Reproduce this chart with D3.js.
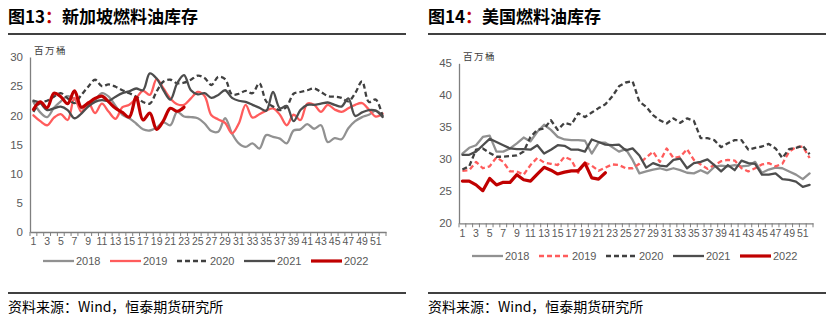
<!DOCTYPE html>
<html><head><meta charset="utf-8">
<script src="https://cdn.jsdelivr.net/npm/d3@7/dist/d3.min.js"></script>
<style>body{margin:0;background:#fff}svg{display:block}</style>
</head><body><svg id="c" width="839" height="328"></svg>
<script>
const weeks = [1,2,3,4,5,6,7,8,9,10,11,12,13,14,15,16,17,18,19,20,21,22,23,24,25,26,27,28,29,30,31,32,33,34,35,36,37,38,39,40,41,42,43,44,45,46,47,48,49,50,51,52];
const tickWeeks = [1,3,5,7,9,11,13,15,17,19,21,23,25,27,29,31,33,35,37,39,41,43,45,47,49,51];
const years = ["2018","2019","2020","2021","2022"];
const sgTicks = [0,5,10,15,20,25,30];
const usTicks = [20,25,30,35,40,45];

// Singapore fuel oil inventory (million barrels)
const sg2018 = [22.3,20.5,19.7,21.3,22.4,23.3,22.8,21.2,21.8,22.6,23.8,23.2,21.6,20.1,19.5,18.6,17.6,17.4,17.9,18.8,18.3,20.6,19.8,19.7,19.5,18.6,17.3,17.2,19.5,16.9,15.2,14.6,15.2,14.3,16.6,16.3,16.0,15.2,17.4,17.6,18.5,17.7,18.3,15.4,16.1,15.9,17.8,19.0,19.7,20.1,20.8,19.9];
const sg2019 = [20.0,19.0,18.3,19.6,20.2,19.2,23.0,20.6,22.2,20.4,22.0,20.6,19.4,21.4,21.8,22.9,24.2,23.5,26.2,24.6,22.9,21.9,21.8,22.9,24.0,23.3,20.0,19.3,18.7,16.9,18.6,21.8,19.6,20.2,20.8,21.2,20.1,18.3,20.1,19.2,22.0,21.8,20.6,21.8,21.0,20.6,21.2,21.8,22.1,21.0,19.8,20.3];
const sg2020 = [20.6,22.2,22.5,23.2,23.8,22.9,22.1,23.5,24.9,26.1,25.0,25.3,24.9,24.3,23.8,23.2,22.3,22.0,24.1,25.8,26.1,25.5,25.6,26.1,26.8,26.4,25.2,26.6,26.2,23.6,23.7,24.2,23.8,25.5,22.4,21.5,20.9,21.5,23.7,24.0,24.3,24.6,24.0,23.3,23.2,23.0,22.4,23.8,25.8,22.3,22.7,19.8];
const sg2021 = [22.5,22.1,20.9,21.2,21.5,20.9,19.5,20.3,21.5,22.3,22.6,22.5,23.2,23.8,24.1,24.6,24.3,27.2,26.3,24.3,22.7,25.5,26.9,24.3,23.6,23.8,23.0,23.5,24.3,23.0,22.5,22.3,21.8,21.3,20.8,24.0,21.2,21.6,19.0,20.9,21.8,21.8,22.0,22.2,21.8,21.5,22.9,19.9,20.5,20.9,20.8,19.7];
const sg2022 = [21.0,22.3,21.3,23.8,23.2,22.0,24.2,21.4,22.1,22.9,23.3,22.3,21.2,20.5,19.7,23.1,19.2,20.4,17.6,19.1,21.2,20.7,21.4];

// US fuel oil inventory (million barrels)
const us2018 = [30.9,31.8,32.2,33.5,33.7,31.2,31.2,31.7,32.5,33.4,32.8,34.3,35.4,34.6,33.5,33.1,33.0,33.0,32.9,30.9,32.6,32.6,31.9,31.2,31.6,29.9,27.8,28.1,28.4,28.6,28.3,28.6,28.3,27.9,27.8,28.3,27.8,28.8,29.0,28.9,29.1,28.9,29.0,29.6,27.9,28.4,28.7,28.6,28.1,27.6,26.9,27.8];
const us2019 = [28.2,28.3,29.6,28.6,28.9,30.3,29.6,28.1,28.1,27.6,29.1,30.2,29.5,29.3,29.1,30.4,29.9,27.9,29.5,29.0,28.2,28.7,29.2,29.1,28.6,28.6,29.3,30.3,31.2,29.6,31.7,30.2,30.4,31.6,29.9,29.2,28.5,29.1,29.7,29.9,29.8,28.6,28.1,28.6,29.2,29.4,28.9,29.3,31.2,31.9,32.0,30.2];
const us2020 = [28.4,28.9,31.5,31.7,31.0,30.4,30.4,30.5,30.6,31.2,33.5,34.6,34.8,36.1,34.6,35.7,35.4,37.2,36.6,37.3,38.0,38.6,39.8,41.4,42.0,42.2,39.0,38.2,36.9,36.1,35.6,36.4,35.7,36.4,36.0,33.3,33.3,33.0,31.9,32.5,33.0,33.0,31.5,31.8,32.0,32.4,31.7,30.2,31.6,31.8,32.1,30.8];
const us2021 = [30.7,30.7,31.2,32.2,33.2,32.7,32.2,31.7,31.6,31.6,31.5,32.2,30.9,31.5,32.2,32.1,31.5,31.5,31.2,33.1,32.7,32.3,32.2,32.3,31.4,31.7,30.6,28.7,29.4,29.0,28.9,29.9,30.1,28.6,29.4,29.6,30.0,29.1,28.1,29.1,28.3,29.8,29.4,29.3,27.6,27.6,27.8,26.9,26.8,26.5,25.7,26.0];
const us2022 = [26.6,26.6,26.0,25.1,27.0,26.0,26.4,26.4,27.6,26.8,26.6,27.7,28.75,28.3,27.7,28.0,28.2,28.2,29.4,27.1,26.9,27.9];

const svg = d3.select("#c");
const AX = "#7f7f7f", TXT = "#595959";
const FONT = "'Liberation Sans', Arial, sans-serif";
const CJK = "'Noto Sans CJK SC', sans-serif";

function drawChart(o) {
  const g = svg.append("g");
  // title
  const t = g.append("text").attr("x", o.tx).attr("y", 23)
    .attr("font-family", CJK).attr("font-weight", "bold").attr("font-size", 17).attr("fill", "#000");
  t.append("tspan").text(o.fig);
  t.append("tspan").attr("fill", "#c00000").text("：");
  t.append("tspan").text(o.title);
  g.append("line").attr("x1", o.tx).attr("x2", o.tx + 398).attr("y1", 34).attr("y2", 34)
    .attr("stroke", "#000").attr("stroke-width", 1.4);
  g.append("line").attr("x1", o.tx).attr("x2", o.tx + 398).attr("y1", 293).attr("y2", 293)
    .attr("stroke", "#000").attr("stroke-width", 1.4);
  g.append("text").attr("x", o.tx).attr("y", 312).attr("font-family", CJK)
    .attr("font-size", 14).attr("fill", "#000").text("资料来源：Wind，恒泰期货研究所");

  const x = d3.scaleBand().domain(weeks).range([o.x0, o.x1]).padding(0);
  const y = d3.scaleLinear().domain(o.domain).range([o.yb, o.yt]);

  // unit
  g.append("text").attr("x", o.x0 + 4).attr("y", o.yt - 3).attr("font-family", CJK)
    .attr("font-size", 9.5).attr("fill", "#404040").attr("letter-spacing", 1.5).text("百万桶");

  // y axis
  const ya = d3.axisLeft(y).tickValues(o.ticks).tickSize(0).tickPadding(7);
  const yg = g.append("g").attr("transform", `translate(${o.x0},0)`).call(ya);
  yg.select(".domain").attr("stroke", AX).attr("stroke-width", 1.3);
  yg.selectAll("text").attr("font-family", FONT).attr("font-size", 11.5).attr("fill", TXT);

  // x axis
  const xa = d3.axisBottom(x).tickValues(tickWeeks).tickSize(0).tickPadding(6);
  const xg = g.append("g").attr("transform", `translate(0,${o.yb})`).call(xa);
  xg.select(".domain").attr("stroke", AX).attr("stroke-width", 1.3);
  xg.selectAll("text").attr("font-family", FONT).attr("font-size", 10.5).attr("fill", TXT);
  const bounds = weeks.map(w => x(w)).concat([x(weeks[weeks.length - 1]) + x.bandwidth()]);
  g.append("g").selectAll("line").data(bounds).join("line")
    .attr("x1", d => d).attr("x2", d => d).attr("y1", o.yb).attr("y2", o.yb + 4)
    .attr("stroke", AX).attr("stroke-width", 1);

  const line = d3.line().x((d, i) => x(weeks[i]) + x.bandwidth() / 2).y(d => y(d)).curve(o.curve);
  o.series.forEach(s => {
    g.append("path").datum(s.data).attr("d", line).attr("fill", "none")
      .attr("stroke", s.color).attr("stroke-width", s.w)
      .attr("stroke-dasharray", s.dash || null)
      .attr("stroke-linejoin", "round").attr("stroke-linecap", s.dash ? "butt" : "round");
  });

  // legend
  o.series.forEach((s, i) => {
    const lx = o.lx + i * 67;
    g.append("line").attr("x1", lx).attr("x2", lx + 31).attr("y1", o.ly).attr("y2", o.ly)
      .attr("stroke", s.color).attr("stroke-width", s.w).attr("stroke-dasharray", s.dash || null);
    g.append("text").attr("x", lx + 33).attr("y", o.ly + 4).attr("font-family", FONT)
      .attr("font-size", 11).attr("fill", TXT).text(years[i]);
  });
}

const C18 = "#919191", C19 = "#ff5c5c", C20 = "#404040", C21 = "#4d4d4d", C22 = "#c00000";

drawChart({
  tx: 8, fig: "图13", title: "新加坡燃料油库存",
  x0: 30, x1: 386, yt: 57, yb: 232, domain: [0, 30], ticks: sgTicks,
  curve: d3.curveCatmullRom.alpha(0.5), lx: 43, ly: 261,
  series: [
    {data: sg2018, color: C18, w: 2.3},
    {data: sg2019, color: C19, w: 2.3},
    {data: sg2020, color: C20, w: 2.3, dash: "5,3"},
    {data: sg2021, color: C21, w: 2.3},
    {data: sg2022, color: C22, w: 3.2}
  ]
});

drawChart({
  tx: 428, fig: "图14", title: "美国燃料油库存",
  x0: 459, x1: 813, yt: 63.3, yb: 223.3, domain: [20, 45], ticks: usTicks,
  curve: d3.curveLinear, lx: 472, ly: 256,
  series: [
    {data: us2018, color: C18, w: 2.3},
    {data: us2019, color: C19, w: 2.3, dash: "5,3"},
    {data: us2020, color: C20, w: 2.3, dash: "5,3"},
    {data: us2021, color: C21, w: 2.3},
    {data: us2022, color: C22, w: 3.2}
  ]
});
</script></body></html>
